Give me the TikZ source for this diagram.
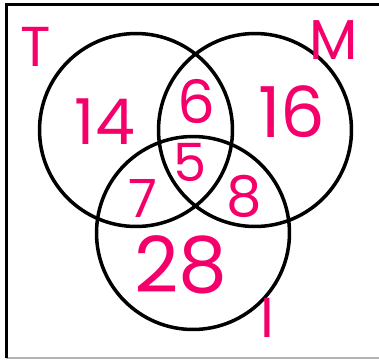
\documentclass[tikz,border=0pt]{standalone}
\usepackage{fontspec}
\setsansfont{Poppins}
\usepackage{tikz}
\usepackage{xcolor}
\usetikzlibrary{positioning}
\definecolor{inkPink}  {HTML}{F5006A}
\definecolor{frameGray}{HTML}{B4B4B4}

\begin{document}
\begin{tikzpicture}[x=0.02cm, y=-0.02cm,
    setring/.style={draw=black, circle, line width=2pt, minimum size=3.86cm, inner sep=0pt},
    count/.style={font=\sffamily\fontsize{#1}{#1}\selectfont, text=inkPink, inner sep=0pt},
    count/.default=34pt]
  \useasboundingbox (0,0) rectangle (379,360);
  % frame
  \draw[frameGray, line width=1pt] (6,358) -- (379,358);
  \draw[black, line width=1.8pt] (6.5,358) -- (6.5,4.5) -- (379,4.5);
  % the three sets
  \node[setring] (setT) at (136,130) {};
  \node[setring] (setM) at (255,130) {};
  \node[setring] (setI) at (193,233) {};
  % set names
  \node[count=32pt] (nameT) at (36,47) {T};
  \node[count=32pt] (nameM) at (334,40) {M};
  \node[count=32pt] (nameI) at (267,318) {I};
  % counts
  \node[count=36pt] (onlyT) at (105,122) {14};
  \node[count=34pt] (tm)    at (196,102) {6};
  \node[count=40pt] (onlyM) at (292,112) {16};
  \node[count=30pt] (tmi)   at (190,162) {5};
  \node[count=30pt] (ti)    at (143,198) {7};
  \node[count=32pt] (mi)    at (244,196) {8};
  \node[count=44pt] (onlyI) at (181,265) {28};
\end{tikzpicture}
\end{document}
